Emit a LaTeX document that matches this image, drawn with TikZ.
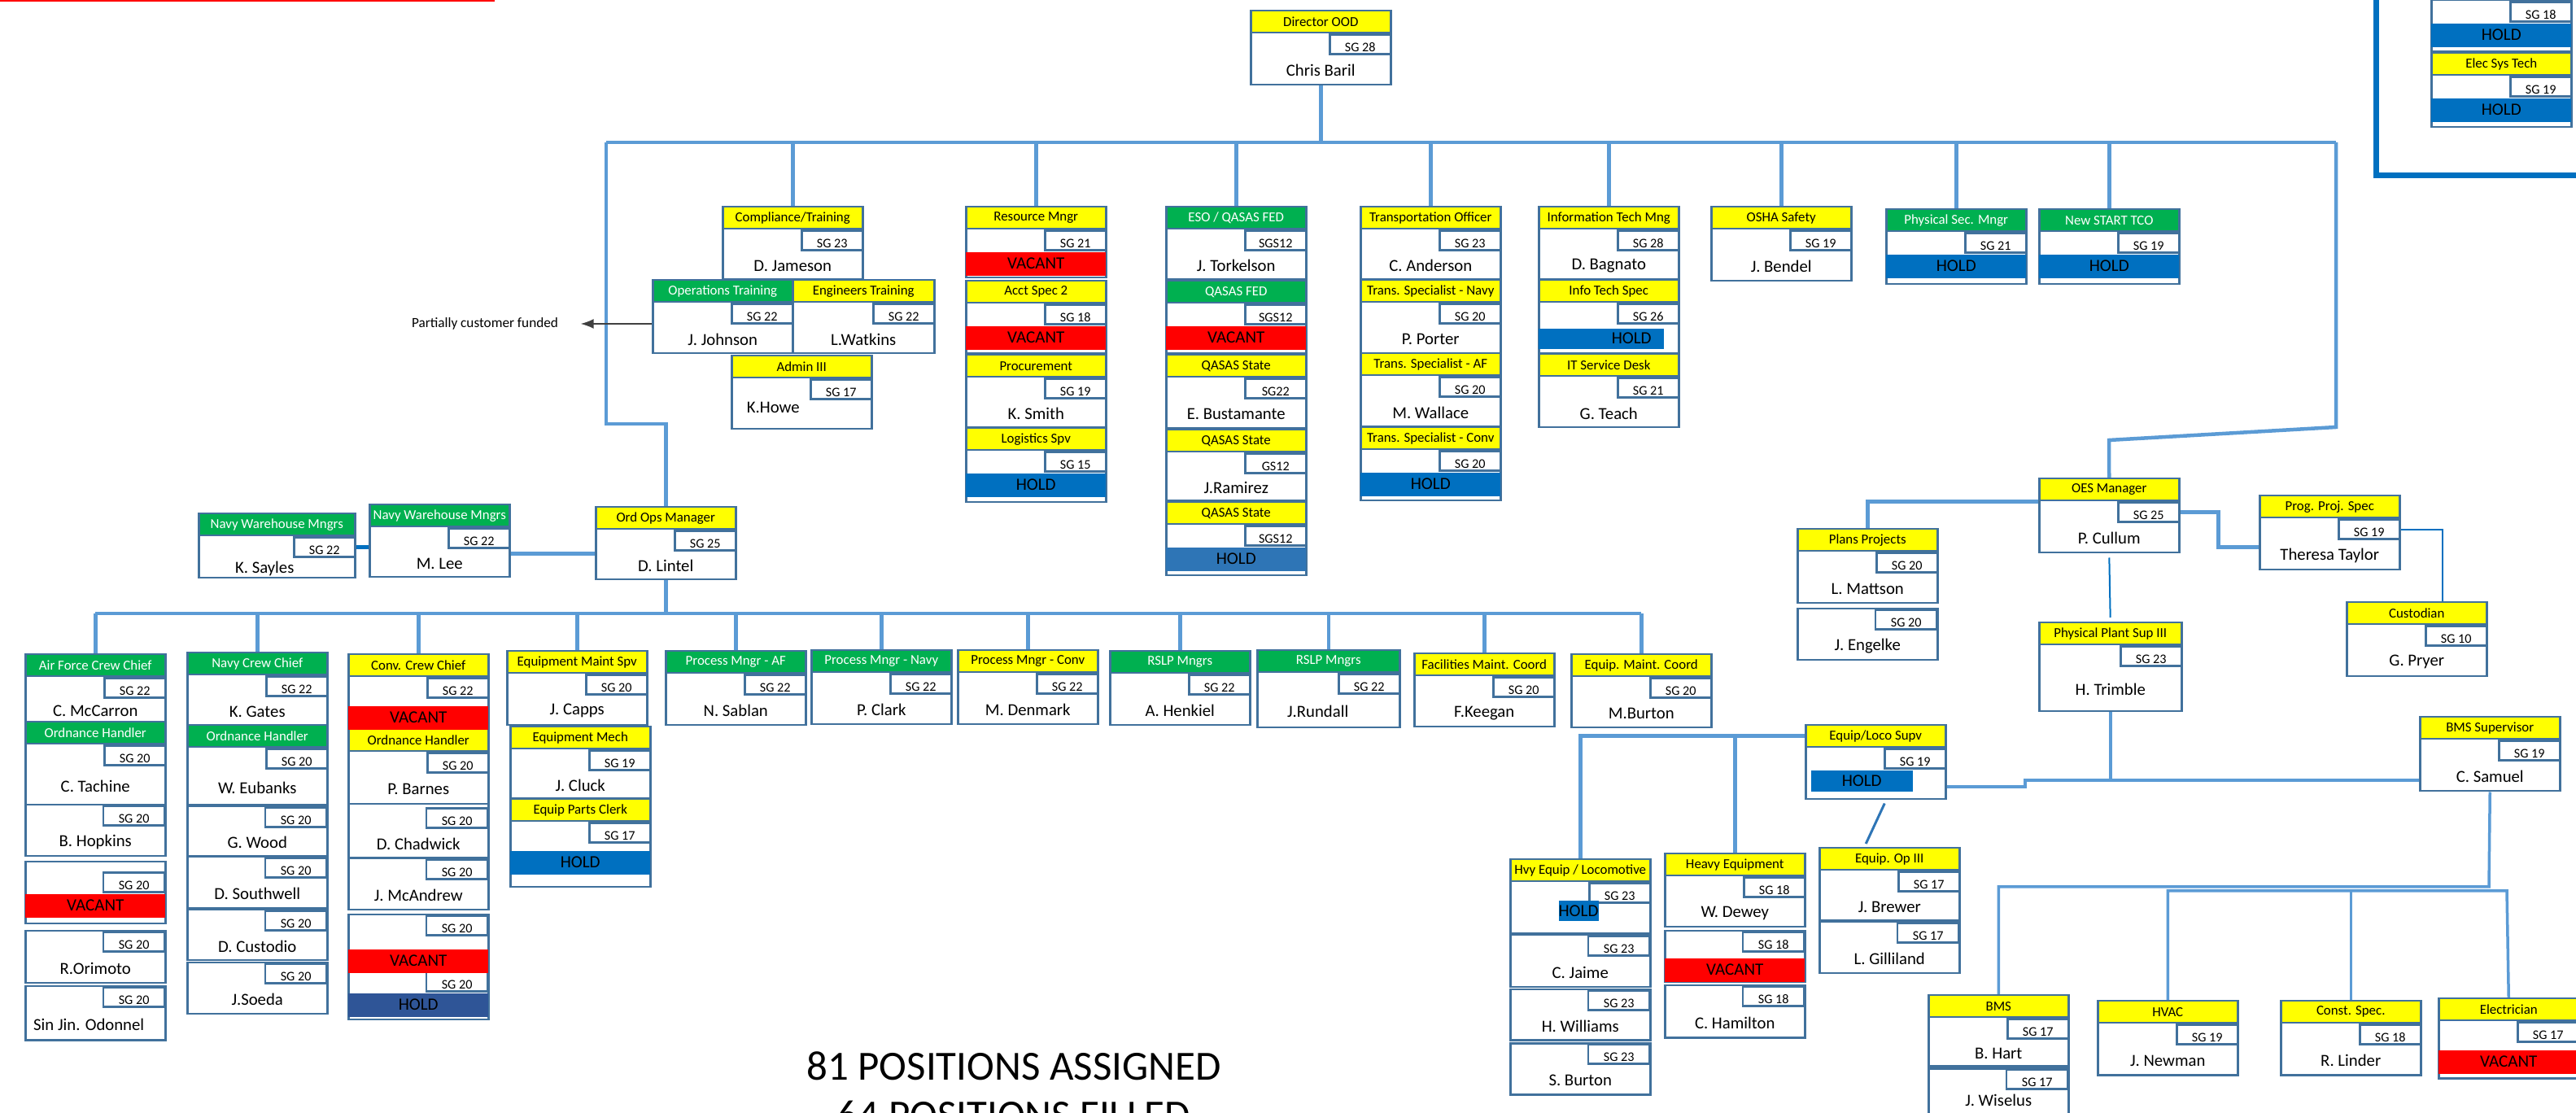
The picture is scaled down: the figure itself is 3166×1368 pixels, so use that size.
\documentclass[tikz,border=0pt]{standalone}
\usepackage{fontspec}
\setmainfont{Carlito}
\usepackage{tikz}
\usetikzlibrary{arrows.meta,calc}
\definecolor{hdryel}{HTML}{FFFF00}
\definecolor{hdrgrn}{HTML}{00B050}
\definecolor{vacred}{HTML}{FF0000}
\definecolor{holdblue}{HTML}{0070C0}
\definecolor{holddark}{HTML}{2F5597}
\definecolor{holdsteel}{HTML}{2E75B6}
\definecolor{bord}{HTML}{41719C}
\definecolor{lnk}{HTML}{5B9BD5}
\definecolor{arrgray}{HTML}{404040}
\tikzset{
  frame/.style={draw=bord,line width=0.25mm,fill=white,inner sep=0pt},
  hdr/.style={draw=bord,line width=0.25mm,inner sep=0pt,minimum height=2.7mm,font={\fontsize{4.8}{5}\selectfont}},
  ylw/.style={hdr,fill=hdryel},
  grn/.style={hdr,fill=hdrgrn,text=white},
  nohdr/.style={inner sep=0pt,minimum height=#1*0.1mm},
  nohdr/.default=0,
  grade/.style={draw=bord,line width=0.25mm,fill=white,inner sep=0pt,minimum width=7.5mm,minimum height=2.4mm,text height=1.8mm,text depth=0pt,font={\fontsize{4.6}{5}\selectfont}},
  who/.style={inner sep=1pt,font={\fontsize{5.9}{7}\selectfont}},
  tag/.style={inner sep=0pt,minimum width=17.2mm,minimum height=2.9mm,font={\fontsize{6}{7}\selectfont}},
  vac/.style={tag,fill=vacred},
  hold/.style={tag,fill=holdblue},
  holdd/.style={tag,fill=holddark},
  holds/.style={tag,fill=holdsteel},
  link/.style={draw=lnk,line width=0.45mm},
  dlink/.style={draw=holdblue,line width=0.45mm},
  tlink/.style={draw=holdblue,line width=0.2mm},
  slant/.style={draw=holdsteel,line width=0.3mm},
  arr/.style={-{Latex[length=1.6mm]},draw=arrgray,line width=0.15mm},
  note/.style={inner sep=2pt,font={\fontsize{4.9}{6}\selectfont}},
  total/.style={inner sep=0pt,font={\fontsize{14.5}{17}\selectfont}},
}
% box: [width] name, x, y, height, header style, header, grade
\newcommand{\posn}[8][172]{%
  \node[frame,minimum width=#1*0.1mm,minimum height=#5*0.1mm,anchor=north west] (#2) at (#3,#4) {};
  \node[#6,minimum width=#1*0.1mm,anchor=north west] (#2h) at (#2.north west) {#7};
  \node[grade,anchor=north east] (#2g) at (#2h.south east) {#8};}
\newcommand{\who}[3][]{\node[who,#1] (#2n) at ($(#2.south)!.5!(#2.south |- #2g.south)$) {#3};}
\newcommand{\flag}[4][]{\node[#2,anchor=north,#1] (#3f) at (#3.south |- #3g.south) {#4};}

\begin{document}
\begin{tikzpicture}[x=0.1mm,y=-0.1mm]
  \useasboundingbox (0,0) rectangle (3166,1368);
  \clip (0,0) rectangle (3166,1368);
  \draw[draw=vacred,line width=0.2mm] (0,1) -- (608,1);
  \draw[draw=holdblue,line width=0.7mm] (2920,-20) -- (2920,216) -- (3200,216);

  \posn{dir}{1536}{12}{91}{ylw}{Director OOD}{SG 28}
  \posn{comp}{887}{253}{89}{ylw}{Compliance/Training}{SG 23}
  \posn{ops}{801}{343}{90}{grn}{Operations Training}{SG 22}
  \posn[174]{engt}{973}{343}{90}{ylw}{Engineers Training}{SG 22}
  \posn{adm}{898}{436}{90}{ylw}{Admin III}{SG 17}
  \posn{res}{1186}{253}{87}{ylw}{Resource Mngr}{SG 21}
  \posn{acct}{1186}{344}{89}{ylw}{Acct Spec 2}{SG 18}
  \posn{proc}{1186}{435}{89}{ylw}{Procurement}{SG 19}
  \posn{logi}{1186}{525}{91}{ylw}{Logistics Spv}{SG 15}
  \posn{eso}{1432}{253}{89}{grn}{ESO / QASAS FED}{SGS12}
  \posn{qfed}{1432}{344}{89}{grn}{QASAS FED}{SGS12}
  \posn{qst1}{1432}{435}{90}{ylw}{QASAS State}{SG22}
  \posn{qst2}{1432}{527}{87}{ylw}{QASAS State}{GS12}
  \posn{qst3}{1432}{616}{90}{ylw}{QASAS State}{SGS12}
  \posn{trn}{1671}{253}{89}{ylw}{Transportation Officer}{SG 23}
  \posn{tnav}{1671}{343}{90}{ylw}{Trans. Specialist - Navy}{SG 20}
  \posn{taf}{1671}{433}{90}{ylw}{Trans. Specialist - AF}{SG 20}
  \posn{tconv}{1671}{524}{90}{ylw}{Trans. Specialist - Conv}{SG 20}
  \posn{itm}{1890}{253}{89}{ylw}{Information Tech Mng}{SG 28}
  \posn{its}{1890}{343}{90}{ylw}{Info Tech Spec}{SG 26}
  \posn{itsd}{1890}{434}{90}{ylw}{IT Service Desk}{SG 21}
  \posn{osha}{2102}{253}{91}{ylw}{OSHA Safety}{SG 19}
  \posn{psec}{2317}{256}{92}{grn}{Physical Sec. Mngr}{SG 21}
  \posn{nst}{2505}{256}{92}{grn}{New START TCO}{SG 19}
  \posn{est1}{2987}{-28}{90}{ylw}{}{SG 18}
  \posn{est2}{2987}{64}{91}{ylw}{Elec Sys Tech}{SG 19}

  \posn[192]{say}{243}{630}{79}{grn}{Navy Warehouse Mngrs}{SG 22}
  \posn{lee}{453}{619}{89}{grn}{Navy Warehouse Mngrs}{SG 22}
  \posn{lintel}{731}{622}{89}{ylw}{Ord Ops Manager}{SG 25}

  \posn{afcc}{30}{803}{83}{grn}{Air Force Crew Chief}{SG 22}
  \posn{afoh}{30}{886}{102}{grn}{Ordnance Handler}{SG 20}
  \posn{hop}{30}{988}{63}{nohdr}{}{SG 20}
  \posn{afv}{30}{1058}{76}{nohdr=12}{}{SG 20}
  \posn{ori}{30}{1143}{64}{nohdr}{}{SG 20}
  \posn{sjo}{30}{1211}{66}{nohdr}{}{SG 20}
  \posn{ncc}{229}{801}{89}{grn}{Navy Crew Chief}{SG 22}
  \posn{ncoh}{229}{890}{98}{grn}{Ordnance Handler}{SG 20}
  \posn{wood}{229}{990}{61}{nohdr}{}{SG 20}
  \posn{sthw}{229}{1052}{63}{nohdr}{}{SG 20}
  \posn{dcus}{229}{1117}{62}{nohdr}{}{SG 20}
  \posn{soeda}{229}{1182}{63}{nohdr}{}{SG 20}
  \posn{ccc}{427}{803}{90}{ylw}{Conv. Crew Chief}{SG 22}
  \posn{ccoh}{427}{895}{92}{ylw}{Ordnance Handler}{SG 20}
  \posn{chad}{427}{987}{66}{nohdr=4}{}{SG 20}
  \posn{mca}{427}{1054}{63}{nohdr}{}{SG 20}
  \posn{ccv}{427}{1123}{69}{nohdr}{}{SG 20}
  \posn{cch}{427}{1192}{60}{nohdr}{}{SG 20}
  \posn{ems}{622}{799}{91}{ylw}{Equipment Maint Spv}{SG 20}
  \posn{emech}{626}{892}{88}{ylw}{Equipment Mech}{SG 19}
  \posn{epc}{626}{981}{108}{ylw}{Equip Parts Clerk}{SG 17}
  \posn{pmaf}{817}{799}{91}{grn}{Process Mngr - AF}{SG 22}
  \posn{pmnv}{996}{798}{91}{grn}{Process Mngr - Navy}{SG 22}
  \posn{pmcv}{1176}{798}{91}{ylw}{Process Mngr - Conv}{SG 22}
  \posn{rslp1}{1363}{799}{91}{grn}{RSLP Mngrs}{SG 22}
  \posn[175]{rslp2}{1544}{798}{95}{grn}{RSLP Mngrs}{SG 22}
  \posn{fmc}{1737}{802}{90}{ylw}{Facilities Maint. Coord}{SG 20}
  \posn{emc}{1930}{803}{90}{ylw}{Equip. Maint. Coord}{SG 20}

  \posn{oes}{2505}{587}{91}{ylw}{OES Manager}{SG 25}
  \posn{plan}{2208}{649}{91}{ylw}{Plans Projects}{SG 20}
  \posn{eng}{2208}{747}{63}{nohdr}{}{SG 20}
  \posn{pps}{2776}{608}{91}{ylw}{Prog. Proj. Spec}{SG 19}
  \posn{custd}{2883}{739}{91}{ylw}{Custodian}{SG 10}
  \posn[175]{ppl}{2505}{764}{109}{ylw}{Physical Plant Sup III}{SG 23}
  \posn{bmss}{2973}{880}{91}{ylw}{BMS Supervisor}{SG 19}
  \posn{elsv}{2218}{890}{91}{ylw}{Equip/Loco Supv}{SG 19}
  \posn{hvy}{1855}{1055}{91}{ylw}{Hvy Equip / Locomotive}{SG 23}
  \posn{jaime}{1855}{1148}{64}{nohdr}{}{SG 23}
  \posn{hwil}{1855}{1215}{62}{nohdr}{}{SG 23}
  \posn{sbur}{1855}{1281}{63}{nohdr}{}{SG 23}
  \posn{heq}{2045}{1048}{90}{ylw}{Heavy Equipment}{SG 18}
  \posn{hev}{2045}{1143}{63}{nohdr}{}{SG 18}
  \posn{ham}{2045}{1210}{64}{nohdr}{}{SG 18}
  \posn{eop}{2235}{1041}{89}{ylw}{Equip. Op III}{SG 17}
  \posn{gill}{2235}{1132}{63}{nohdr}{}{SG 17}
  \posn{bms}{2369}{1222}{87}{ylw}{BMS}{SG 17}
  \posn{wis}{2369}{1312}{70}{nohdr}{}{SG 17}
  \posn{hvac}{2577}{1229}{91}{ylw}{HVAC}{SG 19}
  \posn{cspec}{2802}{1229}{91}{ylw}{Const. Spec.}{SG 18}
  \posn{elec}{2996}{1226}{98}{ylw}{Electrician}{SG 17}

  \who{dir}{Chris Baril}
  \who{comp}{D. Jameson}
  \who{ops}{J. Johnson}
  \who{engt}{L.Watkins}
  \who[xshift=-3.5mm,yshift=0.9mm]{adm}{K.Howe}
  \who{proc}{K. Smith}
  \who{eso}{J. Torkelson}
  \who{qst1}{E. Bustamante}
  \who{qst2}{J.Ramirez}
  \who{trn}{C. Anderson}
  \who{tnav}{P. Porter}
  \who{taf}{M. Wallace}
  \who{itm}{D. Bagnato}
  \who{itsd}{G. Teach}
  \who{osha}{J. Bendel}
  \who[xshift=-1.5mm]{say}{K. Sayles}
  \who{lee}{M. Lee}
  \who{lintel}{D. Lintel}
  \who{afcc}{C. McCarron}
  \who{afoh}{C. Tachine}
  \who{hop}{B. Hopkins}
  \who{ori}{R.Orimoto}
  \who[xshift=-0.8mm]{sjo}{Sin Jin. Odonnel}
  \who{ncc}{K. Gates}
  \who{ncoh}{W. Eubanks}
  \who{wood}{G. Wood}
  \who{sthw}{D. Southwell}
  \who{dcus}{D. Custodio}
  \who{soeda}{J.Soeda}
  \who{ccoh}{P. Barnes}
  \who{chad}{D. Chadwick}
  \who{mca}{J. McAndrew}
  \who{ems}{J. Capps}
  \who{emech}{J. Cluck}
  \who{pmaf}{N. Sablan}
  \who{pmnv}{P. Clark}
  \who{pmcv}{M. Denmark}
  \who{rslp1}{A. Henkiel}
  \who[xshift=-1.3mm]{rslp2}{J.Rundall}
  \who{fmc}{F.Keegan}
  \who{emc}{M.Burton}
  \who{oes}{P. Cullum}
  \who{plan}{L. Mattson}
  \who{eng}{J. Engelke}
  \who{pps}{Theresa Taylor}
  \who{custd}{G. Pryer}
  \who{ppl}{H. Trimble}
  \who{bmss}{C. Samuel}
  \who{jaime}{C. Jaime}
  \who{hwil}{H. Williams}
  \who{sbur}{S. Burton}
  \who{heq}{W. Dewey}
  \who{ham}{C. Hamilton}
  \who{eop}{J. Brewer}
  \who{gill}{L. Gilliland}
  \who{bms}{B. Hart}
  \who[yshift=1mm]{wis}{J. Wiselus}
  \who{hvac}{J. Newman}
  \who{cspec}{R. Linder}

  \flag{vac}{res}{VACANT}
  \flag{vac}{acct}{VACANT}
  \flag{hold}{logi}{HOLD}
  \flag{vac}{qfed}{VACANT}
  \flag{holds}{qst3}{HOLD}
  \flag{hold}{tconv}{HOLD}
  \flag{hold}{psec}{HOLD}
  \flag{hold}{nst}{HOLD}
  \flag{hold}{est1}{HOLD}
  \flag{hold}{est2}{HOLD}
  \flag{vac}{afv}{VACANT}
  \flag[yshift=-0.8mm]{vac}{ccc}{VACANT}
  \flag[yshift=-1.5mm]{vac}{ccv}{VACANT}
  \flag{holdd}{cch}{HOLD}
  \flag[yshift=-0.8mm]{hold}{epc}{HOLD}
  \flag[yshift=-0.6mm]{vac}{hev}{VACANT}
  \flag[yshift=-0.8mm]{vac}{elec}{VACANT}
  \node[hold,anchor=north west,minimum width=0pt,text width=12.4mm,inner xsep=1.5mm,align=right,minimum height=2.5mm] (itsf) at (1890,403) {HOLD};
  \node[hold,anchor=north west,minimum width=12.5mm,minimum height=2.6mm] (elsvf) at (2225,946) {HOLD};
  \node[hold,minimum width=4.9mm,minimum height=2.5mm] (hvyf) at (1940,1120) {HOLD};

  \node[note] (pcf) at (596,398) {Partially customer funded};
  \node[total] (assigned) at (1246,1310) {81 POSITIONS ASSIGNED};
  \node[total] (filled) at (1246,1370) {64 POSITIONS FILLED};

  \coordinate (busL) at (745,175);
  \coordinate (busR) at (2871,175);
  \coordinate (ordk) at (745,521);
  \coordinate (oesk1) at (2871,525);
  \coordinate (oesk2) at (2592,541);
  \coordinate (rowbus) at (0,754);
  \coordinate (jn) at (2594,959);
  \coordinate (stp) at (2489,959);
  \coordinate (stp2) at (2489,967);
  \coordinate (bb) at (3059,1090);
  \coordinate (bb2) at (3081,1095);

  \draw[link] (dir.south) -- (dir.south |- busL);
  \draw[link] (busL) -- (busR);
  \foreach \n in {comp,res,eso,trn,itm,osha,psec,nst}
    \draw[link] (\n.north) -- (\n.north |- busL);
  \draw[link] (busL) -- (ordk) -| (lintel.north);
  \draw[link] (busR) -- (oesk1) -- (oesk2) -- (oes.north);
  \draw[arr] (ops.west |- pcf) -- ([xshift=2mm]pcf.east);
  \draw[dlink] (sayg.east) -- (sayg.east -| lee.west);
  \draw[link] ([yshift=-1.6mm]lee.east) -- ([yshift=-1.6mm]lee.east -| lintel.west);
  \draw[link] (lintel.south) -- (lintel.south |- rowbus);
  \draw[link] (afcc.north |- rowbus) -- (emc.north |- rowbus);
  \foreach \n in {afcc,ncc,ccc,ems,pmaf,pmnv,pmcv,rslp1,rslp2,fmc,emc}
    \draw[link] (\n.north) -- (\n.north |- rowbus);
  \draw[link] (oesh.south west) -| (plan.north);
  \draw[link,line width=0.55mm] (oesg.east) -- ++(47,0) |- ([yshift=-1.8mm]pps.west);
  \draw[tlink] (ppsg.east) -| ([xshift=3.2mm]custd.north);
  \draw[tlink,shorten <=0.5mm,shorten >=0.5mm] (oes.south) -- (ppl.north);
  \draw[link] (ppl.south) |- (jn -| bmss.west);
  \draw[link] (jn) -- (stp) -- (stp2) -- (stp2 -| elsv.east);
  \draw[link] (elsvh.west) -| (hvy.north);
  \draw[link] (heq.north) -- (heq.north |- elsvh.west);
  \draw[slant] ([xshift=1.1mm,yshift=-0.4mm]elsv.south) -- ([xshift=-2.9mm,yshift=0.4mm]eop.north);
  \draw[link,line width=0.35mm] (bmss.south) -- (bb) -| (bms.north);
  \draw[link,line width=0.35mm] (hvac.north) |- (bb2) -- (elec.north);
  \draw[link,line width=0.35mm] (cspec.north) -- (cspec.north |- bb2);
\end{tikzpicture}
\end{document}
